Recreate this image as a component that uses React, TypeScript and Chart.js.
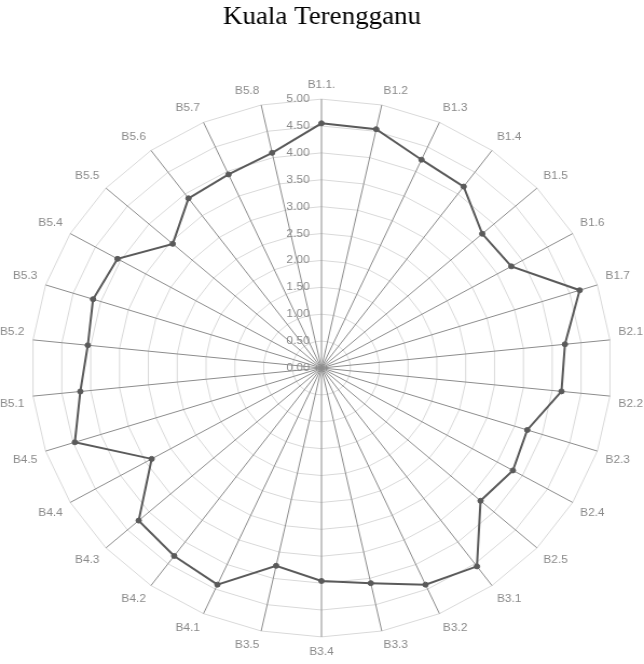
import React, { useEffect, useRef } from "react";
import { Chart, registerables } from "chart.js";

Chart.register(...registerables);

const TITLE = "Kuala Terengganu";

const CATEGORIES = [
  "B1.1.", "B1.2", "B1.3", "B1.4", "B1.5", "B1.6", "B1.7",
  "B2.1", "B2.2", "B2.3", "B2.4", "B2.5",
  "B3.1", "B3.2", "B3.3", "B3.4", "B3.5",
  "B4.1", "B4.2", "B4.3", "B4.4", "B4.5",
  "B5.1", "B5.2", "B5.3", "B5.4", "B5.5", "B5.6", "B5.7", "B5.8",
];

const SCORES = [
  4.55, 4.54, 4.24, 4.17, 3.73, 3.78, 4.68,
  4.22, 4.16, 3.73, 3.81, 3.69,
  4.56, 4.41, 4.09, 3.96, 3.76,
  4.41, 4.32, 4.24, 3.38, 4.47,
  4.18, 4.05, 4.14, 4.06, 3.45, 3.90, 3.94, 4.09,
];

const TICK_LABELS = [
  "0.00", "0.50", "1.00", "1.50", "2.00", "2.50",
  "3.00", "3.50", "4.00", "4.50", "5.00",
];

const AXIS_MIN = 0;
const AXIS_MAX = 5;
const AXIS_STEP = 0.5;

// internal canvas size; shown stretched horizontally like the reference
const CANVAS_W = 597;
const CANVAS_H = 664;
const SHOW_W = 644;
const SHOW_H = 664;

const tickLabelPlugin = {
  id: "tickLabelPlugin",
  afterDraw(chart: any) {
    const scale = chart.scales.r;
    const ctx = chart.ctx;
    ctx.save();
    ctx.font = '11px "Liberation Sans", Arial, sans-serif';
    ctx.fillStyle = "#8a8a8a";
    ctx.textAlign = "right";
    ctx.textBaseline = "middle";
    TICK_LABELS.forEach((lab) => {
      const d = scale.getDistanceFromCenterForValue(parseFloat(lab));
      ctx.fillText(lab, scale.xCenter - 11, scale.yCenter - d);
    });
    ctx.restore();
  },
};

export default function App() {
  const ref = useRef<HTMLCanvasElement | null>(null);

  useEffect(() => {
    if (!ref.current) return;
    const chart = new Chart(ref.current, {
      type: "radar",
      data: {
        labels: CATEGORIES,
        datasets: [
          {
            label: TITLE,
            data: SCORES,
            borderColor: "#5a5a5a",
            backgroundColor: "#5a5a5a",
            borderWidth: 2,
            pointRadius: 2.5,
            pointBackgroundColor: "#5a5a5a",
            pointBorderColor: "#5a5a5a",
            pointBorderWidth: 1,
            fill: false,
            tension: 0,
          },
        ],
      },
      options: {
        responsive: false,
        animation: false,
        devicePixelRatio: 1,
        events: [],
        layout: { padding: { left: 0, right: 0, top: 0, bottom: 0 } },
        plugins: {
          legend: { display: false },
          tooltip: { enabled: false },
          title: {
            display: true,
            text: TITLE,
            color: "#000000",
            font: { family: '"Liberation Serif", "Times New Roman", serif', size: 25, weight: "normal" },
            padding: { top: 2, bottom: 41 },
          },
        },
        scales: {
          r: {
            min: AXIS_MIN,
            max: AXIS_MAX,
            beginAtZero: true,
            ticks: { display: false, stepSize: AXIS_STEP },
            grid: { circular: false, color: "#d9d9d9", lineWidth: 1 },
            angleLines: { display: true, color: "#8c8c8c", lineWidth: 1 },
            pointLabels: {
              display: true,
              color: "#8a8a8a",
              padding: 8,
              font: { family: '"Liberation Sans", Arial, sans-serif', size: 11 },
            },
          },
        },
      },
      plugins: [tickLabelPlugin],
    });
    return () => chart.destroy();
  }, []);

  return (
    <div style={{ position: "absolute", left: 0, top: 0, width: SHOW_W, height: SHOW_H, background: "#fff" }}>
      <canvas
        ref={ref}
        width={CANVAS_W}
        height={CANVAS_H}
        style={{ display: "block", width: SHOW_W + "px", height: SHOW_H + "px" }}
      />
    </div>
  );
}
